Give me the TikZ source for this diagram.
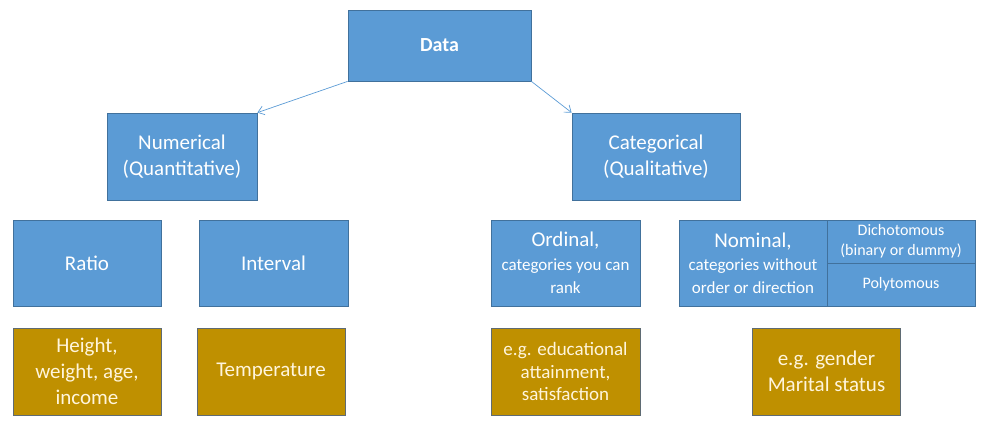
\documentclass[tikz,border=0pt]{standalone}
\usepackage{fontspec}
\setmainfont{Carlito}
\usetikzlibrary{arrows.meta}
\definecolor{boxblue}{HTML}{5B9BD5}
\definecolor{lineblue}{HTML}{41719C}
\definecolor{boxgold}{HTML}{BF9000}
\definecolor{linegold}{HTML}{5F6B73}
\definecolor{textcream}{HTML}{FFF5DC}

\begin{document}
\begin{tikzpicture}[x=1pt,y=-1pt,
  bluebox/.style={draw=lineblue,fill=boxblue,text=white,line width=0.8pt,inner sep=0pt,align=center,
    minimum width=148pt,minimum height=86pt,font=\fontsize{21}{26}\selectfont},
  goldbox/.style={draw=linegold,fill=boxgold,text=textcream,line width=0.8pt,inner sep=0pt,align=center,
    minimum width=148pt,minimum height=87pt,font=\fontsize{21}{26}\selectfont},
  link/.style={draw=boxblue,line width=0.7pt,-{Straight Barb[length=6pt,width=9pt]}}]
 \useasboundingbox (0,0) rectangle (987,433);
 % top
 \node[bluebox,minimum width=183pt,minimum height=71pt,font=\fontsize{20}{24}\selectfont\bfseries] (data) at (439.5,45.5) {Data};
 \node[bluebox,minimum width=150pt,minimum height=87pt] (num) at (182,156.5) {Numerical\\(Quantitative)};
 \node[bluebox,minimum width=168pt,minimum height=87pt] (cat) at (656,156.5) {Categorical\\(Qualitative)};
 \draw[link] (data.south west) -- (num.north east);
 \draw[link] (data.south east) -- (cat.north west);
 % types
 \node[bluebox] (ratio) at (87,263) {Ratio};
 \node[bluebox,minimum width=149pt] (interval) at (273.5,263) {Interval};
 \node[bluebox,minimum width=149pt] (ordinal) at (565.5,263) {Ordinal,\\[-2pt]{\fontsize{17}{20}\selectfont categories you can}\\[-3pt]{\fontsize{17}{20}\selectfont rank}};
 \node[bluebox] (nominal) at (753,263) {Nominal,\\[-3pt]{\fontsize{17}{20}\selectfont categories without}\\[-3pt]{\fontsize{17}{20}\selectfont order or direction}};
 \node[bluebox,minimum height=43pt,font=\fontsize{16}{20}\selectfont] (dich) at (901,241.5) {Dichotomous\\(binary or dummy)};
 \node[bluebox,minimum height=43pt,font=\fontsize{16}{20}\selectfont] (poly) at (901,284.5) {Polytomous};
 % examples
 \node[goldbox] (height) at (87,371.5) {Height,\\weight, age,\\income};
 \node[goldbox] (temp) at (271,371.5) {Temperature};
 \node[goldbox,minimum width=149pt,font=\fontsize{19}{22.5}\selectfont] (edu) at (565.5,371.5) {e.g. educational\\attainment,\\satisfaction};
 \node[goldbox] (gender) at (826.5,371.5) {e.g. gender\\Marital status};
\end{tikzpicture}
\end{document}
